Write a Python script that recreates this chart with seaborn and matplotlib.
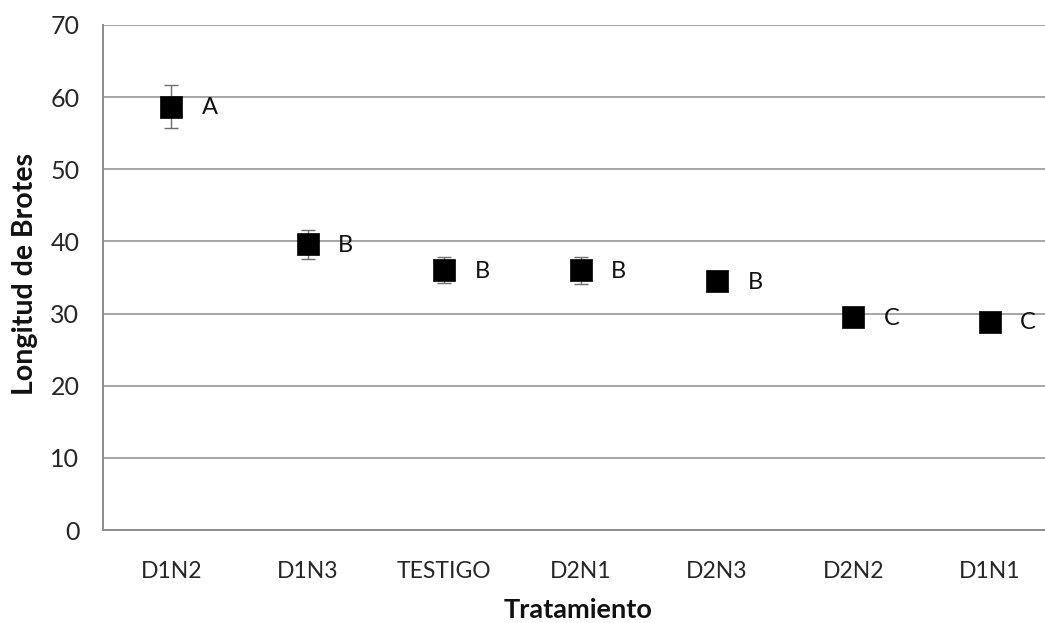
import matplotlib
matplotlib.use("Agg")
import matplotlib.pyplot as plt
import seaborn as sns
import pandas as pd
import numpy as np

categories = ["D1N2", "D1N3", "TESTIGO", "D2N1", "D2N3", "D2N2", "D1N1"]
means = [58.7, 39.6, 36.0, 36.0, 34.5, 29.5, 28.9]
errors = [3.0, 2.0, 1.8, 1.9, 1.2, 0.8, 0.8]
letters = ["A", "B", "B", "B", "B", "C", "C"]
yticks = [0, 10, 20, 30, 40, 50, 60, 70]

sns.set_theme(style="white")
plt.rcParams["font.family"] = ["Lato", "DejaVu Sans"]

df = pd.DataFrame({"Tratamiento": categories, "Longitud": means, "err": errors, "letra": letters})

W, H = 1045, 623
fig = plt.figure(figsize=(W / 100, H / 100), dpi=100)
left, right, bottom, top = 103, 1058, 530, 25
ax = fig.add_axes([left / W, 1 - bottom / H, (right - left) / W, (bottom - top) / H])

gray = "#8c8c8c"
ax.errorbar(np.arange(len(categories)), df["Longitud"], yerr=df["err"], fmt="none",
            ecolor="#6e6e6e", elinewidth=1.0, capsize=5, capthick=1.0, zorder=3)
sns.scatterplot(data=df, x="Tratamiento", y="Longitud", marker="s", s=260,
                color="black", edgecolor="black", linewidth=0.5, ax=ax, zorder=4, legend=False)

for i, row in df.iterrows():
    ax.annotate(row["letra"], (i, row["Longitud"]), xytext=(22, -1), textcoords="offset points",
                ha="left", va="center", fontsize=17, color="#111111")

ax.set_ylim(0, 70)
ax.set_xlim(-0.5, len(categories) - 0.5)
ax.set_yticks(yticks)
ax.set_yticklabels([str(v) for v in yticks], fontsize=18, color="#262626")
ax.set_xticks(np.arange(len(categories)))
ax.set_xticklabels(categories, fontsize=16.5, color="#262626")
ax.set_xticks(np.arange(len(categories) + 1) - 0.5, minor=True)
ax.tick_params(axis="x", which="major", length=0, pad=22)
ax.tick_params(axis="x", which="minor", length=6, width=1.2, color=gray, direction="out")
ax.tick_params(axis="y", length=8, width=1.2, color=gray, direction="out", pad=9)

ax.yaxis.grid(True, color="#a6a6a6", linewidth=1.4)
ax.set_axisbelow(True)
for s in ["top", "right"]:
    ax.spines[s].set_visible(False)
for s in ["left", "bottom"]:
    ax.spines[s].set_color(gray)
    ax.spines[s].set_linewidth(1.4)

ax.set_xlabel("Tratamiento", fontsize=19.5, fontweight="bold", color="#111111", va="center")
ax.set_ylabel("Longitud de Brotes", fontsize=20.5, fontweight="bold", color="#111111", va="center")
ax.xaxis.set_label_coords((578 - left) / (right - left), -(610 - bottom) / (bottom - top))
ax.yaxis.set_label_coords(-(left - 25) / (right - left), (bottom - 274) / (bottom - top))

fig.savefig("out.png", dpi=100)
